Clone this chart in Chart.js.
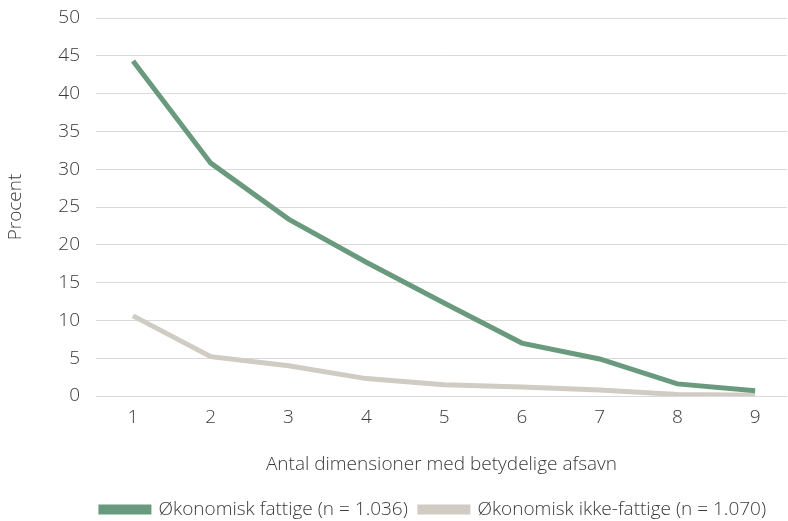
<!DOCTYPE html>
<html>
<head>
<meta charset="utf-8">
<script src="https://cdn.jsdelivr.net/npm/chart.js@4"></script>
<style>
  html, body { margin: 0; padding: 0; background: #fff; }
  #wrap { width: 788px; height: 521px; }
</style>
</head>
<body>
<div id="wrap"><canvas id="afsavnChart" width="788" height="521"></canvas></div>
<script>
const dimensioner = [1, 2, 3, 4, 5, 6, 7, 8, 9];
const fattige = [44.3, 30.8, 23.4, 17.7, 12.3, 7.0, 4.9, 1.6, 0.7];
const ikkeFattige = [10.6, 5.2, 4.0, 2.3, 1.5, 1.2, 0.8, 0.2, 0.1];
const yTicks = [0, 5, 10, 15, 20, 25, 30, 35, 40, 45, 50];

const textColor = '#3a3a3a';
Chart.defaults.font.family = '"Open Sans", Roboto, sans-serif';
Chart.defaults.font.size = 19;
Chart.defaults.font.weight = 300;
Chart.defaults.color = textColor;

const points = values => values.map((v, i) => ({ x: dimensioner[i], y: v }));

// flytter legenden lidt ned og til højre, som i originalen
const legendShift = {
    id: 'legendShift',
    afterLayout(chart) {
        const lg = chart.legend;
        lg.left += 80;
        lg.top += 8;
        lg.bottom += 8;
    }
};

const ctx = document.getElementById('afsavnChart').getContext('2d');
new Chart(ctx, {
    type: 'line',
    data: {
        datasets: [{
            label: 'Økonomisk fattige (n = 1.036)',
            data: points(fattige),
            borderColor: '#6a9a7d',
            backgroundColor: '#6a9a7d',
            borderWidth: 5,
            pointRadius: 0,
            tension: 0
        }, {
            label: 'Økonomisk ikke-fattige (n = 1.070)',
            data: points(ikkeFattige),
            borderColor: '#d0cbc3',
            backgroundColor: '#d0cbc3',
            borderWidth: 5,
            pointRadius: 0,
            tension: 0
        }]
    },
    options: {
        responsive: false,
        animation: false,
        layout: { padding: { top: 18, right: 1, left: 0, bottom: 0 } },
        scales: {
            x: {
                type: 'linear',
                min: 0.524,
                max: 9.41,
                afterBuildTicks: axis => { axis.ticks = dimensioner.map(v => ({ value: v })); },
                grid: { display: false },
                border: { display: false },
                ticks: { padding: 2 },
                afterFit: axis => {
                    axis.height = 84;
                    axis.paddingLeft = 0;
                    axis.paddingRight = 0;
                },
                title: {
                    display: true,
                    text: 'Antal dimensioner med betydelige afsavn',
                    padding: { top: 0, bottom: 4 }
                }
            },
            y: {
                min: 0,
                max: 50,
                afterBuildTicks: axis => { axis.ticks = yTicks.map(v => ({ value: v })); },
                afterFit: axis => {
                    axis.width = 96;
                    axis.paddingTop = 0;
                    axis.paddingBottom = 0;
                },
                grid: { color: '#d9d9d9', lineWidth: 1, drawTicks: false },
                border: { display: false },
                ticks: { padding: 16 },
                title: {
                    display: true,
                    text: 'Procent',
                    padding: { top: 4, bottom: 0 }
                }
            }
        },
        plugins: {
            legend: {
                position: 'bottom',
                labels: {
                    boxWidth: 48,
                    boxHeight: 5,
                    padding: 12
                }
            },
            tooltip: { enabled: false }
        }
    },
    plugins: [legendShift]
});
</script>
</body>
</html>
